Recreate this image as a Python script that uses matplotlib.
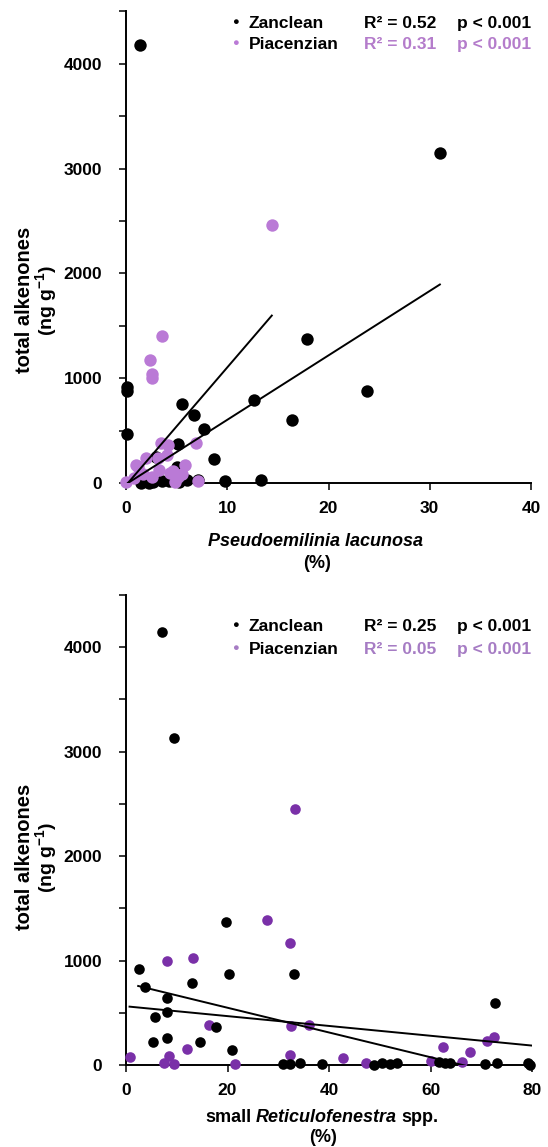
import matplotlib
matplotlib.use("Agg")
import matplotlib.pyplot as plt
import numpy as np
from matplotlib.ticker import FuncFormatter, MultipleLocator

plt.rcParams['font.family'] = ['Liberation Sans', 'DejaVu Sans']
plt.rcParams['font.weight'] = 'bold'
plt.rcParams['mathtext.fontset'] = 'custom'
plt.rcParams['mathtext.rm'] = 'Liberation Sans:bold'
plt.rcParams['mathtext.it'] = 'Liberation Sans:bold:italic'
plt.rcParams['mathtext.bf'] = 'Liberation Sans:bold'

# ---- panel 1: Pseudoemilinia lacunosa (%) vs total alkenones ----
zan1_x = [1.4, 31.0, 17.9, 23.8, 16.4, 12.6, 5.5, 6.7, 7.7, 0.1, 0.1, 0.1, 5.1,
          8.7, 13.3, 9.8, 3.0, 5.0, 3.6, 6.0, 5.2, 7.1, 2.3, 1.5, 2.7, 4.2]
zan1_y = [4180, 3150, 1375, 875, 600, 790, 755, 645, 515, 920, 875, 465, 370,
          225, 30, 15, 250, 155, 15, 30, 10, 25, 0, 0, 5, 20]
pia1_x = [14.4, 3.6, 2.4, 2.6, 2.6, 6.9, 3.5, 4.1, 4.0, 3.2, 2.0, 1.0, 1.2,
          5.8, 4.6, 5.1, 3.3, 7.1, 4.8, 0.0, 0.8, 2.6, 1.7, 4.3, 5.5, 5.0]
pia1_y = [2465, 1400, 1175, 1040, 1000, 380, 380, 360, 270, 235, 240, 170, 155,
          170, 110, 60, 125, 20, 10, 10, 45, 60, 90, 95, 90, 75]
# regression lines (slope, intercept) and x range
zan1_fit = [61.5, -12]
zan1_rng = [0.2, 31.0]
pia1_fit = [112.5, -22]
pia1_rng = [0.2, 14.4]
stats1 = [("R² = 0.52", "p < 0.001"), ("R² = 0.31", "p < 0.001")]

# ---- panel 2: small Reticulofenestra spp. (%) vs total alkenones ----
zan2_x = [7.0, 9.5, 19.7, 20.2, 33.1, 2.6, 3.7, 13.0, 8.0, 8.1, 5.7, 17.7, 5.3,
          8.1, 14.5, 20.8, 72.8, 31.0, 32.3, 34.3, 38.7, 48.8, 50.4, 52.1, 53.4,
          61.6, 63.9, 70.8, 73.1, 79.3, 79.7, 62.8]
zan2_y = [4145, 3135, 1367, 869, 869, 917, 750, 789, 645, 511, 463, 367, 223,
          255, 223, 144, 597, 10, 10, 22, 10, 0, 22, 10, 16,
          32, 22, 10, 22, 16, 0, 15]
pia2_x = [33.3, 27.8, 32.4, 8.1, 13.2, 16.4, 32.5, 36.0, 71.1, 72.6, 62.4, 67.7,
          12.1, 0.8, 8.5, 7.4, 9.5, 21.4, 32.3, 42.7, 47.3, 60.0, 66.3]
pia2_y = [2452, 1389, 1166, 996, 1028, 383, 374, 383, 233, 265, 170, 128,
          153, 74, 89, 16, 10, 10, 96, 70, 16, 41, 26]
zan2_fit = [-11.84, 785]
zan2_rng = [2.4, 68.2]
pia2_fit = [-4.70, 562]
pia2_rng = [0.7, 80.3]
stats2 = [("R² = 0.25", "p < 0.001"), ("R² = 0.05", "p < 0.001")]

W, H = 548, 1147


def fx(px):
    return px / W


def fy(py):
    return 1 - py / H


fig = plt.figure(figsize=(W / 100, H / 100), dpi=100)

ax1 = fig.add_axes([fx(126), fy(483), (531 - 126) / W, (483 - 11.5) / H])
ax2 = fig.add_axes([fx(126), fy(1065), (532 - 126) / W, (1065 - 595) / H])

black = "#000000"
pia_light = "#BA7AD6"
pia_dark = "#7A30A8"
pia_text1 = "#B47CCB"
pia_text2 = "#A67CC4"


def style(ax, xmax, xstep):
    ax.set_xlim(0, xmax)
    ax.set_ylim(0, 4500)
    for s in ["top", "right"]:
        ax.spines[s].set_visible(False)
    for s in ["left", "bottom"]:
        ax.spines[s].set_linewidth(1.4)
    ax.xaxis.set_major_locator(MultipleLocator(xstep))
    ax.yaxis.set_major_locator(MultipleLocator(500))
    ax.yaxis.set_major_formatter(FuncFormatter(lambda v, p: f"{int(v)}" if v % 1000 == 0 else ""))
    ax.tick_params(axis="both", direction="out", length=5, width=1.1, labelsize=12.5)
    ax.tick_params(axis="y", pad=12)
    ax.tick_params(axis="x", pad=8)
    ax.set_facecolor("none")


style(ax1, 40, 10)
style(ax2, 80, 20)

# panel 1 points
ax1.scatter(zan1_x, zan1_y, s=80, color=black, linewidths=0, clip_on=False, zorder=3)
ax1.scatter(pia1_x, pia1_y, s=80, color=pia_light, linewidths=0, clip_on=False, zorder=4)
for fit, rng in [(zan1_fit, zan1_rng), (pia1_fit, pia1_rng)]:
    xx = np.array(rng)
    ax1.plot(xx, np.polyval(fit, xx), color="black", lw=1.4, zorder=5)

# panel 2 points
ax2.scatter(pia2_x, pia2_y, s=58, color=pia_dark, linewidths=0, clip_on=False, zorder=3)
ax2.scatter(zan2_x, zan2_y, s=58, color=black, linewidths=0, clip_on=False, zorder=4)
for fit, rng in [(zan2_fit, zan2_rng), (pia2_fit, pia2_rng)]:
    xx = np.array(rng)
    ax2.plot(xx, np.polyval(fit, xx), color="black", lw=1.4, zorder=5)


# legends (drawn as text, as in the original)
def legend(rows_y, stats, marker_col, text_col):
    names = ["Zanclean", "Piacenzian"]
    cols = [black, marker_col]
    tcols = [black, text_col]
    for i in range(2):
        yc = fy(rows_y[i])
        yb = fy(rows_y[i] + 6)
        fig.text(fx(235), yc, "●", color=cols[i], fontsize=8, ha="center", va="center")
        fig.text(fx(249), yb, names[i], color=black, fontsize=12.5, ha="left", va="baseline")
        fig.text(fx(364), yb, stats[i][0], color=tcols[i], fontsize=12.5, ha="left", va="baseline")
        fig.text(fx(457), yb, stats[i][1], color=tcols[i], fontsize=12.5, ha="left", va="baseline")


legend([22, 43], stats1, pia_light, pia_text1)
legend([625, 648], stats2, pia_text2, pia_text2)

# y labels
for cy in [300, 857]:
    fig.text(fx(25), fy(cy), "total alkenones", rotation=90, fontsize=14.5,
             ha="center", va="center")
    fig.text(fx(46), fy(cy), "(ng g$^{-1}$)", rotation=90, fontsize=14,
             ha="center", va="center")

# x labels
fig.text(fx(316), fy(542), "Pseudoemilinia lacunosa", style="italic", fontsize=13,
         ha="center", va="center")
fig.text(fx(317), fy(563), "(%)", fontsize=13, ha="center", va="center")

t1 = fig.text(fx(205), fy(1118), "small", fontsize=13, ha="left", va="center")
t2 = fig.text(0, 0, "Reticulofenestra", style="italic", fontsize=13)
t3 = fig.text(0, 0, "spp.", fontsize=13)
fig.canvas.draw()
r = fig.canvas.get_renderer()
b1 = t1.get_window_extent(r)
space = 4.5
t2.set_position((fx(b1.x1 + space), fy(1118)))
t2.set_va("center")
b2 = t2.get_window_extent(r)
t3.set_position((fx(b2.x1 + space), fy(1118)))
t3.set_va("center")
fig.text(fx(323), fy(1137), "(%)", fontsize=13, ha="center", va="center")

fig.savefig("out.png", dpi=100)
